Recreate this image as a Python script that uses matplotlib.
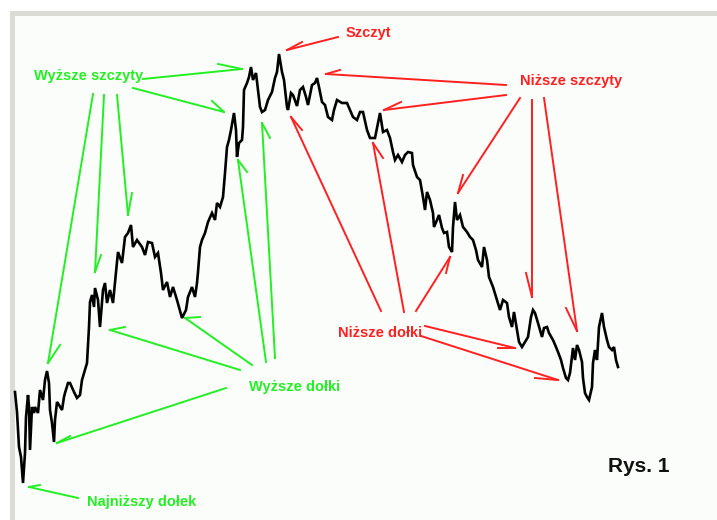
import matplotlib
matplotlib.use('Agg')
import matplotlib.pyplot as plt
import matplotlib.patches as patches

plt.rcParams['font.family'] = ['Liberation Sans', 'DejaVu Sans']

GREEN = '#22f022'
RED = '#ff2020'

# price path (x = session, y = price level)
days = [15, 17, 19, 21, 23, 25, 26, 28, 29, 30, 32, 34, 35, 38, 40, 43, 45, 47, 49, 50,
        52, 54, 55, 57, 59, 62, 64, 65, 68, 70, 74, 77, 80, 82, 85, 87, 89, 90, 92, 94,
        95, 98, 100, 103, 105, 107, 110, 113, 115, 117, 118, 122, 125, 128, 131, 133, 137, 142, 145, 148,
        152, 155, 158, 161, 163, 167, 170, 173, 177, 182, 186, 188, 192, 195, 197, 198, 200, 202, 205, 208,
        212, 215, 217, 220, 223, 225, 227, 229, 231, 234, 236, 237, 239, 242, 243, 244, 247, 249, 251, 253,
        256, 258, 260, 262, 265, 268, 272, 275, 277, 279, 282, 284, 287, 288, 291, 293, 297, 300, 303, 306,
        308, 312, 315, 317, 319, 322, 325, 328, 332, 334, 337, 342, 347, 350, 353, 357, 360, 363, 367, 370,
        375, 378, 380, 383, 387, 390, 393, 395, 398, 402, 405, 408, 412, 413, 417, 420, 423, 425, 427, 430,
        433, 434, 437, 439, 442, 444, 447, 449, 452, 453, 455, 457, 460, 463, 467, 470, 473, 476, 478, 482,
        484, 487, 489, 493, 497, 500, 503, 507, 509, 512, 514, 517, 519, 522, 525, 528, 531, 533, 535, 538,
        542, 544, 547, 549, 553, 556, 558, 561, 563, 566, 568, 570, 573, 575, 577, 579, 582, 583, 585, 587,
        589, 592, 593, 595, 597, 599, 602, 604, 607, 609, 612, 614, 616, 618]
price = [128, 108, 73, 63, 37, 67, 103, 125, 113, 70, 113, 107, 113, 107, 130, 120, 140, 149, 137, 110,
         97, 78, 100, 118, 115, 110, 123, 127, 137, 137, 128, 122, 125, 140, 150, 157, 193, 218, 225, 213,
         232, 220, 193, 230, 237, 217, 230, 217, 238, 258, 268, 257, 283, 287, 295, 273, 280, 273, 265, 278,
         277, 263, 267, 247, 230, 238, 223, 233, 220, 202, 210, 223, 233, 223, 237, 248, 273, 280, 287, 298,
         307, 300, 317, 313, 323, 347, 373, 380, 390, 407, 390, 363, 377, 380, 393, 430, 437, 443, 453, 440,
         447, 430, 413, 408, 410, 420, 428, 442, 448, 466, 448, 440, 413, 410, 427, 425, 414, 430, 433, 423,
         415, 435, 437, 442, 433, 418, 415, 403, 400, 410, 420, 417, 417, 410, 403, 400, 408, 408, 390, 382,
         382, 397, 407, 388, 390, 382, 368, 360, 365, 358, 365, 368, 367, 355, 343, 340, 323, 310, 328, 320,
         307, 293, 300, 305, 292, 287, 288, 273, 268, 293, 318, 300, 305, 293, 288, 283, 280, 270, 260, 253,
         273, 260, 243, 233, 220, 210, 220, 217, 203, 193, 208, 190, 178, 173, 178, 183, 203, 210, 207, 197,
         183, 192, 193, 187, 180, 173, 168, 160, 152, 142, 140, 147, 172, 160, 175, 170, 158, 142, 127, 123,
         120, 133, 157, 170, 160, 193, 207, 193, 180, 173, 170, 173, 160, 153]

labels = ['Wyższe szczyty', 'Szczyt', 'Niższe szczyty',
          'Niższe dołki', 'Wyższe dołki', 'Najniższy dołek']

fig = plt.figure(figsize=(7.17, 5.2), dpi=100)
fig.patch.set_facecolor('white')

ax = fig.add_axes([0, 0, 1, 1])
ax.set_xlim(0, 717)
ax.set_ylim(0, 520)
ax.axis('off')

# grey frame of the original screenshot
ax.add_patch(patches.Rectangle((10, 0), 707, 509, fc='#dcdcd6', ec='none', zorder=0))
ax.add_patch(patches.Rectangle((15, 0), 702, 504, fc='#fbfdfb', ec='none', zorder=0))

ax.plot(days, price, c='k', lw=1.9, solid_joinstyle='miter', zorder=3)


def arrow(tail, tip, barb, color):
    ax.plot([tail[0], tip[0]], [tail[1], tip[1]], c=color, lw=1.4, zorder=2)
    ax.plot([barb[0], tip[0]], [barb[1], tip[1]], c=color, lw=1.4, zorder=2)


# green arrows
arrow((143, 441), (242, 451), (218, 456), GREEN)
arrow((133, 432), (224, 408), (212, 419), GREEN)
arrow((93, 426), (48, 157), (60, 175), GREEN)
arrow((104, 425), (95, 248), (101, 265), GREEN)
arrow((117, 425), (128, 305), (132, 327), GREEN)
arrow((240, 150), (110, 190), (125, 193), GREEN)
arrow((252, 155), (185, 202), (200, 203), GREEN)
arrow((226, 132), (57, 77), (70, 84), GREEN)
arrow((266, 158), (238, 360), (247, 348), GREEN)
arrow((275, 162), (262, 397), (270, 382), GREEN)
arrow((78, 22), (29, 33), (40, 35), GREEN)

# red arrows
arrow((338, 483), (287, 470), (302, 478), RED)
arrow((506, 435), (326, 446), (340, 450), RED)
arrow((506, 425), (384, 410), (401, 418), RED)
arrow((520, 422), (458, 327), (463, 345), RED)
arrow((532, 420), (532, 223), (526, 247), RED)
arrow((544, 422), (577, 189), (566, 212), RED)
arrow((381, 209), (291, 403), (302, 390), RED)
arrow((404, 208), (373, 377), (383, 362), RED)
arrow((416, 209), (450, 263), (446, 247), RED)
arrow((425, 194), (515, 172), (498, 172), RED)
arrow((421, 184), (558, 140), (535, 142), RED)

kw = dict(ha='center', va='center', fontsize=10.5, fontweight='bold', zorder=4)
ax.text(89, 444, labels[0], color=GREEN, **kw)
ax.text(368, 487, labels[1], color=RED, **kw)
ax.text(571, 439, labels[2], color=RED, **kw)
ax.text(380, 187, labels[3], color=RED, **kw)
ax.text(295, 133, labels[4], color=GREEN, **kw)
ax.text(142, 18, labels[5], color=GREEN, **kw)
ax.text(639, 53, 'Rys. 1', color='#111111', ha='center', va='center',
        fontsize=15, fontweight='bold', zorder=4)

fig.savefig('out.png', dpi=100)
